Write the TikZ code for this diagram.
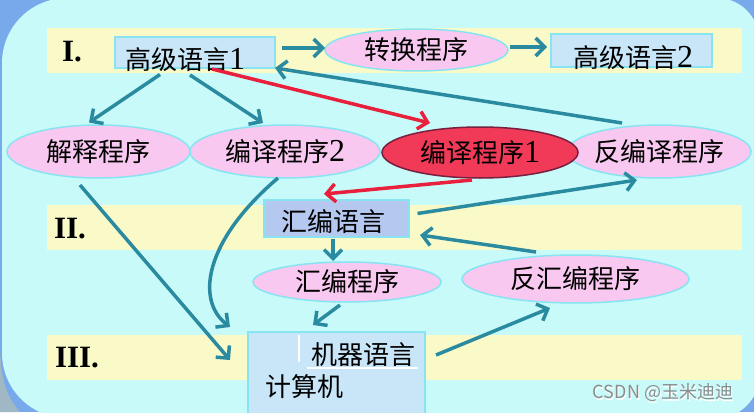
\documentclass[tikz,border=0pt]{standalone}
\usepackage{fontspec}
\setmainfont{Liberation Serif}
\newfontfamily\cjk{Noto Sans CJK SC}
\usetikzlibrary{shapes.geometric,arrows.meta}
\newcommand\mydigit[1]{{\rmfamily\fontsize{32pt}{34pt}\selectfont #1}}
\definecolor{outerblue}{HTML}{78AAEB}
\definecolor{bgcyan}{HTML}{C8FAFA}
\definecolor{bandyellow}{HTML}{FAFAC8}
\definecolor{boxblue}{HTML}{C8E6F8}
\definecolor{boxlav}{HTML}{B4C8F0}
\definecolor{pinkfill}{HTML}{F8C8F0}
\definecolor{edgecyan}{HTML}{88E4F0}
\definecolor{redfill}{HTML}{F03A58}
\definecolor{rededge}{HTML}{782040}
\definecolor{arrteal}{HTML}{2A8AA0}
\definecolor{arrred}{HTML}{E8203C}
\definecolor{devgrey}{HTML}{A0B8C4}
\definecolor{wmgrey}{HTML}{8C8C8C}
\begin{document}
\begin{tikzpicture}[x=1pt,y=-1pt,
  cjkfont/.style={font=\fontsize{26pt}{30pt}\selectfont\cjk, text=black},
  ell/.style={ellipse, draw=edgecyan, line width=1.5pt, fill=pinkfill, inner sep=0pt, cjkfont},
  redell/.style={ell, draw=rededge, fill=redfill},
  boxnode/.style={rectangle, draw=edgecyan, line width=1.2pt, fill=boxblue, inner sep=0pt},
  roman/.style={font=\fontsize{31pt}{34pt}\selectfont\bfseries, text=black, inner sep=0pt},
  arr/.style={draw=arrteal, line width=3.5pt, -{Straight Barb[length=9pt,width=18pt]}},
  redarr/.style={arr, draw=arrred},
  band/.style={fill=bandyellow}
]
\useasboundingbox (0,0) rectangle (754,412);
\begin{scope}
\clip (0,0) rectangle (754,412);
% background
\fill[outerblue] (0,0) rectangle (754,412);
\fill[devgrey] (0,352) .. controls (2,385) and (8,398) .. (20,412) -- (0,412) -- cycle;
\fill[bgcyan] (2,200) [rounded corners=65pt] -- (2,-2) -- (400,-2) [rounded corners=42pt] -- (759,-2) -- (759,418) [rounded corners=65pt] -- (2,418) -- (2,200) -- cycle;
% bands
\fill[band] (47,28) rectangle (742,73);
\fill[band] (47,205) rectangle (742,250);
\fill[band] (47,335) rectangle (742,380);
\node[roman] (r1) at (72,52) {I.};
\node[roman] (r2) at (70,229) {II.};
\node[roman] (r3) at (77,358) {III.};
% boxes
\node[boxnode, minimum width=160pt, minimum height=31pt,
  label={[cjkfont, xshift=-10pt, yshift=-7.5pt]center:高级语言\mydigit{1}}] (gj1) at (195,52.5) {};
\node[boxnode, minimum width=161pt, minimum height=33pt,
  label={[cjkfont, xshift=1.5pt, yshift=-7pt]center:高级语言\mydigit{2}}] (gj2) at (631.5,50.5) {};
\node[boxnode, fill=boxlav, minimum width=145pt, minimum height=37pt,
  label={[cjkfont, xshift=-3.5pt, yshift=-3.5pt]center:汇编语言}] (hbyy) at (336.5,218.5) {};
\node[boxnode, minimum width=177pt, minimum height=93pt] (jq) at (336.5,378.5) {};
\draw[white, line width=1.5pt] (299,335) -- (299,362);
\draw[white, line width=2pt] (307,368) -- (418,368);
\node[cjkfont] (jqyy) at (363,355) {机器语言};
\node[cjkfont] (jsj) at (304,387) {计算机};
% ellipses
\node[ell, minimum width=183pt, minimum height=42pt] (zh) at (416.5,50) {转换程序};
\node[ell, minimum width=183pt, minimum height=53pt] (js) at (98.5,151.5) {解释程序};
\node[ell, minimum width=190pt, minimum height=53pt] (by2) at (285,151.5) {编译程序\mydigit{2}};
\node[ell, minimum width=184pt, minimum height=53pt] (fby) at (659,151.5) {反编译程序};
\node[redell, minimum width=196pt, minimum height=51pt] (by1) at (480,152.5) {编译程序\mydigit{1}};
\node[ell, minimum width=188pt, minimum height=40pt] (hbcx) at (347,282) {汇编程序};
\node[ell, minimum width=227pt, minimum height=48pt] (fhb) at (575.5,279) {反汇编程序};
% arrows
\draw[arr] ([shift={(87,-4.5)}]gj1.center) -- ([shift={(-91.5,-2)}]zh.center);
\draw[arr] ([shift={(93.5,-3)}]zh.center) -- ([shift={(-84.5,-3.5)}]gj2.center);
\draw[arr] ([shift={(-35,22)}]gj1.center) -- ([shift={(-9.5,-29)}]js.center);
\draw[arr] ([shift={(-5,22.5)}]gj1.center) -- ([shift={(-22,-28.5)}]by2.center);
\draw[redarr] ([shift={(17,16.5)}]gj1.center) -- ([shift={(-50,-29.5)}]by1.center);
\draw[arr] ([shift={(-37,-28.5)}]fby.center) -- ([shift={(80,15.5)}]gj1.center);
\draw[redarr] ([shift={(-8,27.5)}]by1.center) -- ([shift={(-12.5,-24.5)}]hbyy.center);
\draw[arr] ([shift={(81,-5)}]hbyy.center) -- ([shift={(-22,28.5)}]fby.center);
\draw[arr] ([shift={(-39.5,-27)}]fhb.center) -- ([shift={(83.5,16.5)}]hbyy.center);
\draw[arr] ([shift={(-3.5,20.5)}]hbyy.center) -- ([shift={(-14,-21)}]hbcx.center);
\draw[arr] ([shift={(-7,23)}]hbcx.center) -- ([shift={(-23.5,-53.5)}]jq.center);
\draw[arr] ([shift={(99.5,-23.5)}]jq.center) -- ([shift={(-25.5,29)}]fhb.center);
\draw[arr] ([shift={(-18.5,33.5)}]js.center) -- ([shift={(-106.5,-18.5)}]jq.center);
\draw[arr] ([shift={(-7,26.5)}]by2.center) .. controls +(-73,62) and +(-35,-27) .. ([shift={(-106.5,-51.5)}]jq.center);
% watermark
\node[font=\fontsize{18pt}{20pt}\selectfont\cjk, text=white] (wms) at (664,394) {CSDN @玉米迪迪};
\node[font=\fontsize{18pt}{20pt}\selectfont\cjk, text=wmgrey] (wm) at (663,393) {CSDN @玉米迪迪};
\end{scope}
\end{tikzpicture}
\end{document}
